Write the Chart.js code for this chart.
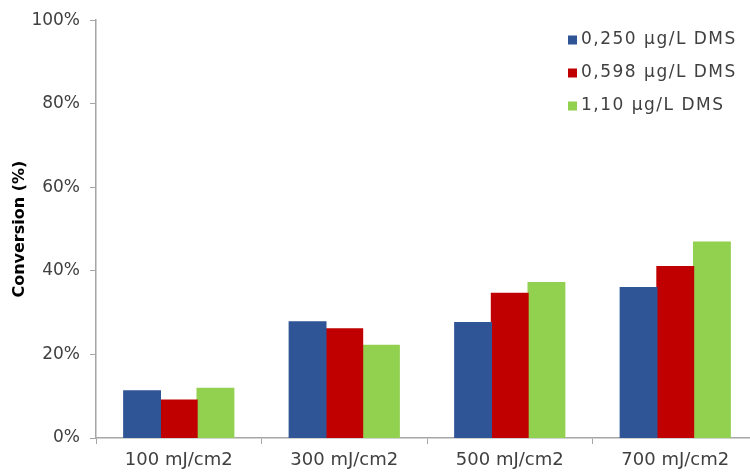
<!DOCTYPE html>
<html>
<head>
<meta charset="utf-8">
<script src="https://cdn.jsdelivr.net/npm/chart.js@4.4.1/dist/chart.umd.min.js"></script>
<style>
  html, body { margin: 0; padding: 0; background: #fff; }
  #wrap { width: 750px; height: 472px; overflow: hidden; position: relative; }
  #box { width: 762px; height: 472px; position: absolute; left: 0; top: 0; }
</style>
</head>
<body>
<div id="wrap"><div id="box"><canvas id="chart"></canvas></div></div>
<script>
// Data
const categories = ['100 mJ/cm2', '300 mJ/cm2', '500 mJ/cm2', '700 mJ/cm2'];
const seriesNames = ['0,250 µg/L DMS', '0,598 µg/L DMS', '1,10 µg/L DMS'];
const dms0250 = [0.113, 0.278, 0.276, 0.360];
const dms0598 = [0.091, 0.261, 0.346, 0.410];
const dms110 = [0.119, 0.222, 0.372, 0.469];
const yTicks = [0, 0.2, 0.4, 0.6, 0.8, 1.0];

const colors = ['#2F5597', '#C00000', '#92D050'];
const FONT = 'DejaVu Sans';
const textColor = '#404040';

// Legend drawn in the top right corner of the plot
const cornerLegend = {
    id: 'cornerLegend',
    afterDraw(chart) {
        const ctx = chart.ctx;
        ctx.save();
        ctx.font = '17px "' + FONT + '"';
        ctx.letterSpacing = '1.5px';
        ctx.textBaseline = 'middle';
        ctx.textAlign = 'left';
        chart.data.datasets.forEach((ds, i) => {
            const y = 40 + i * 33;
            ctx.fillStyle = ds.backgroundColor;
            ctx.fillRect(568, y - 4.5, 9, 9);
            ctx.fillStyle = textColor;
            ctx.fillText(ds.label, 581, y);
        });
        ctx.restore();
    }
};

const ctx = document.getElementById('chart').getContext('2d');
new Chart(ctx, {
    type: 'bar',
    data: {
        labels: categories,
        datasets: [
            { label: seriesNames[0], data: dms0250, backgroundColor: colors[0] },
            { label: seriesNames[1], data: dms0598, backgroundColor: colors[1] },
            { label: seriesNames[2], data: dms110, backgroundColor: colors[2] }
        ]
    },
    options: {
        responsive: true,
        maintainAspectRatio: false,
        animation: false,
        datasets: {
            bar: { barPercentage: 1, categoryPercentage: 0.665, borderWidth: 0, inflateAmount: 0.6 }
        },
        layout: { padding: { top: 20, right: 4, left: 0, bottom: 0 } },
        plugins: {
            legend: { display: false },
            tooltip: { enabled: false }
        },
        scales: {
            x: {
                afterFit: (scale) => { scale.height = 34; },
                grid: {
                    display: true,
                    drawOnChartArea: false,
                    drawTicks: true,
                    tickLength: 6,
                    color: '#A6A6A6'
                },
                border: { display: true, color: '#A6A6A6', width: 1.5 },
                ticks: {
                    color: textColor,
                    font: { family: FONT, size: 18 },
                    padding: 6,
                    maxRotation: 0
                }
            },
            y: {
                min: 0,
                max: 1,
                afterFit: (scale) => { scale.width = 96; },
                afterBuildTicks: (scale) => {
                    scale.ticks = yTicks.map(v => ({ value: v }));
                },
                grid: {
                    display: true,
                    drawOnChartArea: false,
                    drawTicks: true,
                    tickLength: 6,
                    color: '#A6A6A6'
                },
                border: { display: true, color: '#A6A6A6', width: 1.5 },
                ticks: {
                    color: textColor,
                    font: { family: FONT, size: 17 },
                    padding: 10,
                    callback: (v) => Math.round(v * 100) + '%'
                },
                title: {
                    display: true,
                    text: 'Conversion (%)',
                    color: '#000',
                    font: { family: FONT, size: 16, weight: 'bold' },
                    padding: { top: 10, bottom: 0 }
                }
            }
        }
    },
    plugins: [cornerLegend]
});
</script>
</body>
</html>
